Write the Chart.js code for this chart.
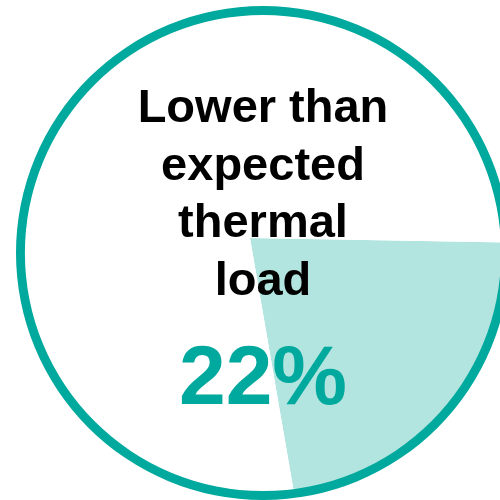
<!DOCTYPE html>
<html>
<head>
<meta charset="utf-8">
<script src="https://cdn.jsdelivr.net/npm/chart.js@4"></script>
<style>
  html, body { margin: 0; padding: 0; width: 500px; height: 500px; overflow: hidden; background: #ffffff; }
  #wrap { position: relative; width: 500px; height: 500px; overflow: hidden; }
  canvas { position: absolute; }
  #pie { left: -9px; top: -21px; }
  #ring { left: 16px; top: 6px; }
  .txt { position: absolute; left: 13px; width: 500px; text-align: center; font-family: "Liberation Sans", Arial, sans-serif; font-weight: bold; }
  #label { top: 77px; font-size: 47px; line-height: 57.5px; color: #000000; }
  #pct { top: 333px; font-size: 84px; line-height: 84px; color: #00a99d; }
</style>
</head>
<body>
<div id="wrap">
  <canvas id="pie" width="518" height="518"></canvas>
  <canvas id="ring" width="494" height="494"></canvas>
  <div class="txt" id="label">Lower than<br>expected<br>thermal<br>load</div>
  <div class="txt" id="pct">22%</div>
</div>
<script>
const categories = ["Lower than expected thermal load", "Other"];
const values = [22, 78];
const sliceColors = ["#b3e5e0", "#ffffff"];
const ringValues = [100];
const ringColor = "#00a99d";

new Chart(document.getElementById("pie"), {
  type: "pie",
  data: { labels: categories, datasets: [{ data: values, backgroundColor: sliceColors, borderWidth: 0 }] },
  options: {
    responsive: false, animation: false, events: [],
    rotation: 91,
    layout: { padding: 0 },
    plugins: { legend: { display: false }, tooltip: { enabled: false } }
  }
});

new Chart(document.getElementById("ring"), {
  type: "doughnut",
  data: { labels: ["ring"], datasets: [{ data: ringValues, backgroundColor: [ringColor], borderWidth: 0 }] },
  options: {
    responsive: false, animation: false, events: [],
    cutout: "96.4%",
    layout: { padding: 0 },
    plugins: { legend: { display: false }, tooltip: { enabled: false } }
  }
});
</script>
</body>
</html>
